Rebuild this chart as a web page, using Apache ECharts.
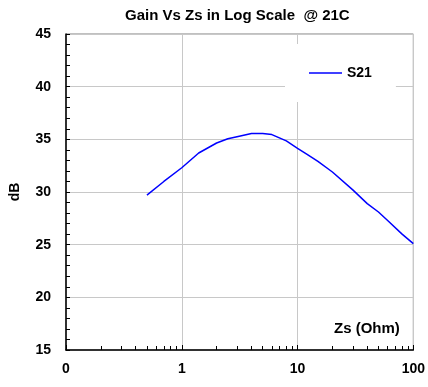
<!DOCTYPE html>
<html>
<head>
<meta charset="utf-8">
<script src="https://cdn.jsdelivr.net/npm/echarts@6/dist/echarts.min.js"></script>
<style>
  html, body { margin: 0; padding: 0; background: #fff; }
  #chart { width: 428px; height: 387px; }
</style>
</head>
<body>
<div id="chart"></div>
<script>
  // 读图估计的数据：Zs (Ohm) 与 S21 (dB)
  const zs  = [0.5, 0.7, 1, 1.4, 2, 2.5, 3, 4, 5, 6, 8, 10, 12, 15, 20, 30, 40, 50, 60, 80, 100]
  const s21 = [29.7, 31.0, 32.3, 33.7, 34.65, 35.05, 35.25, 35.55, 35.55, 35.45, 34.85, 34.15, 33.6, 32.9, 31.9, 30.2, 28.9, 28.1, 27.3, 26.0, 25.1]
  // 对数轴上的小刻度
  const minorX = [0.2,0.3,0.4,0.5,0.6,0.7,0.8,0.9, 2,3,4,5,6,7,8,9, 20,30,40,50,60,70,80,90]

  const font = 'Liberation Sans, Arial, sans-serif'
  const bold = size => ({ fontFamily: font, fontSize: size, fontWeight: 'bold', color: '#000' })
  const chart = echarts.init(document.getElementById('chart'))

  chart.setOption({
    animation: false,
    title: {
      text: 'Gain Vs Zs in Log Scale  @ 21C',
      left: 120, top: 3,
      textStyle: bold(15)
    },
    grid: {
      left: 66, right: 13, top: 34, bottom: 37,
      show: true, borderColor: '#808080', borderWidth: 1
    },
    legend: {
      left: 285, top: 44,
      padding: [22, 24, 22, 24],
      backgroundColor: '#fff',
      itemWidth: 33, itemHeight: 1.5, itemGap: 4,
      textStyle: bold(14),
      data: [{ name: 'S21', icon: 'rect' }]
    },
    xAxis: [{
      type: 'log', logBase: 10, min: 0.1, max: 100,
      axisLine: { lineStyle: { color: '#000', width: 1.5 } },
      axisTick: { inside: true, length: 5, lineStyle: { color: '#000' } },
      axisLabel: {
        margin: 12, ...bold(14),
        formatter: v => v < 1 ? '0' : String(Math.round(v))
      },
      splitLine: { show: true, lineStyle: { color: '#c8c8c8', width: 1 } }
    }, {
      // 只用来画小刻度
      type: 'log', logBase: 10, min: 0.1, max: 100, position: 'bottom',
      axisLine: { show: false },
      axisLabel: { show: false },
      splitLine: { show: false },
      axisTick: { show: true, inside: true, length: 4, customValues: minorX, lineStyle: { color: '#000' } }
    }],
    yAxis: {
      type: 'value', min: 15, max: 45, interval: 5,
      name: 'dB', nameLocation: 'middle', nameGap: 44,
      nameTextStyle: bold(14),
      axisLine: { show: true, lineStyle: { color: '#000', width: 1.5 } },
      axisTick: { show: true, inside: true, length: 4, lineStyle: { color: '#000' } },
      minorTick: { show: true, splitNumber: 5, length: 4, lineStyle: { color: '#000' } },
      axisLabel: { margin: 15, ...bold(14) },
      splitLine: { show: true, lineStyle: { color: '#c8c8c8', width: 1 } }
    },
    graphic: [{
      type: 'text', left: 334, top: 321,
      style: { text: 'Zs (Ohm)', font: 'bold 15px ' + font, fill: '#000' }
    }],
    series: [{
      name: 'S21', type: 'line', xAxisIndex: 0,
      symbol: 'none', smooth: false,
      lineStyle: { color: '#0000ff', width: 1.5 },
      itemStyle: { color: '#0000ff' },
      data: zs.map((x, i) => [x, s21[i]])
    }]
  })
</script>
</body>
</html>
